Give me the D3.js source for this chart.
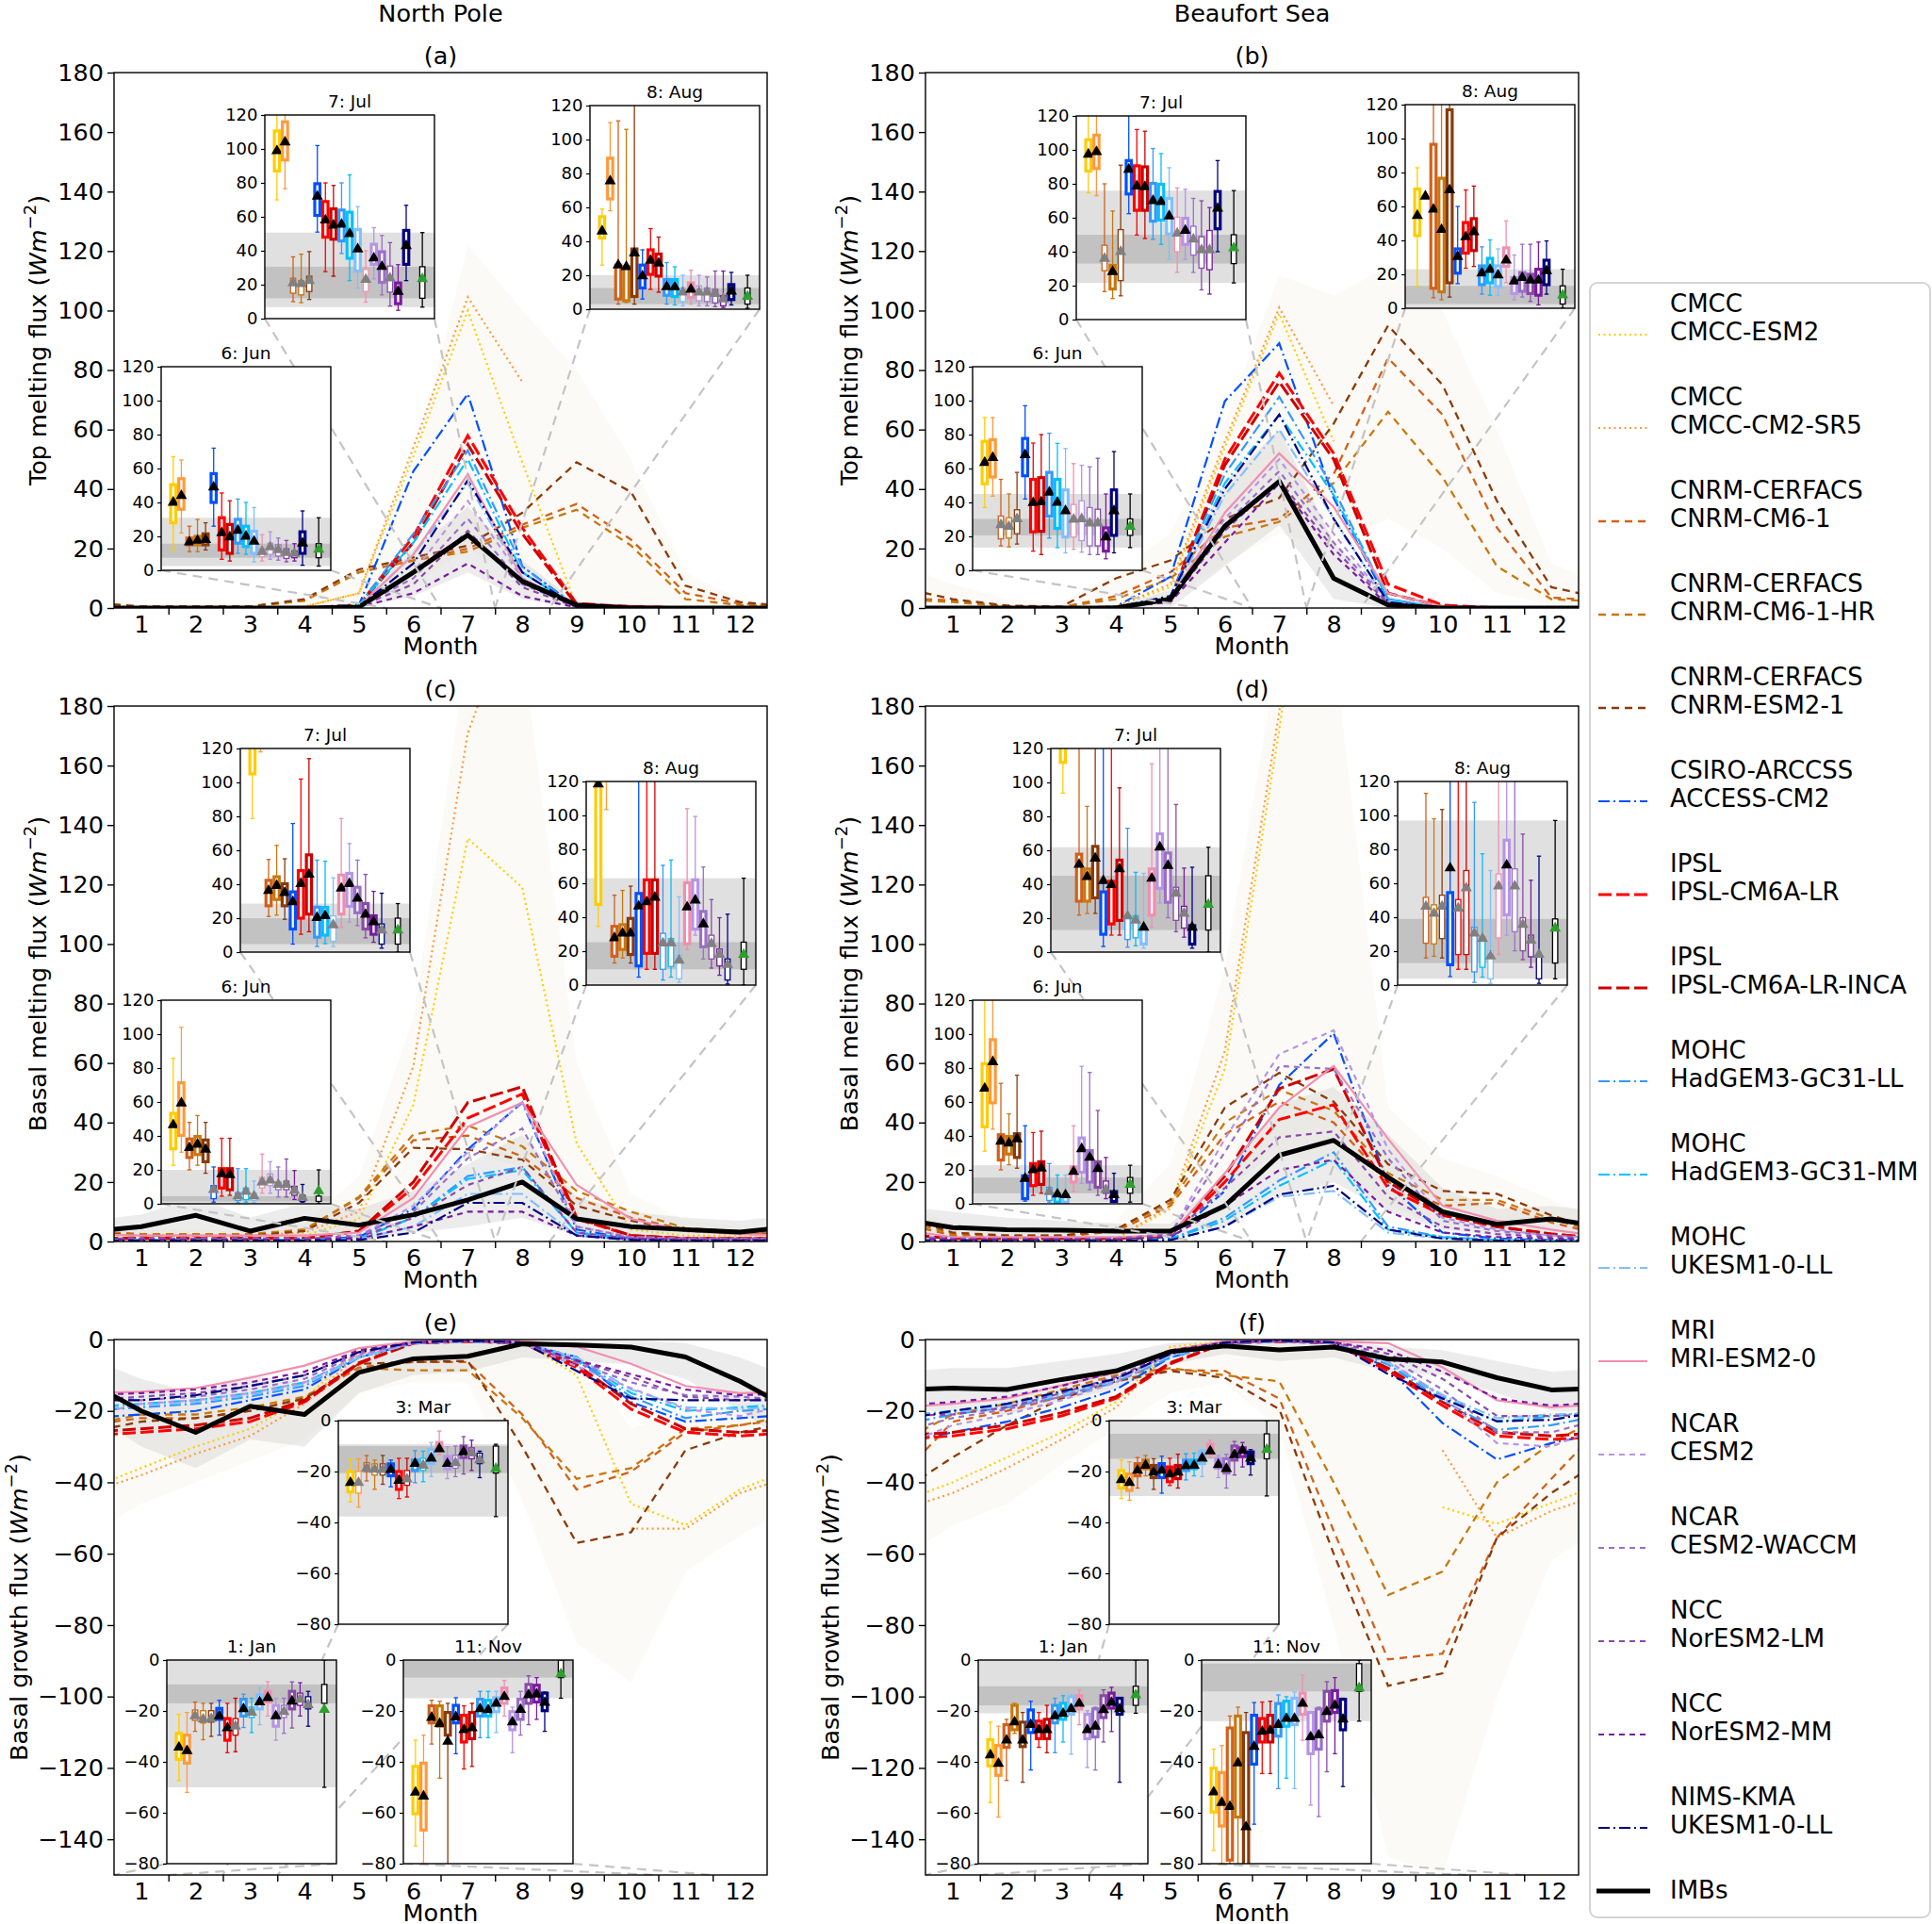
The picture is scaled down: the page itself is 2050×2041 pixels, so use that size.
<!DOCTYPE html>
<html>
<head>
<meta charset="utf-8">
<script src="https://cdn.jsdelivr.net/npm/d3@7"></script>
<style>
  body { margin: 0; background: #fff; }
  svg { font-family: "DejaVu Sans", sans-serif; }
</style>
</head>
<body>
<svg id="chart" width="2050" height="2041"></svg>
<script>
// ---------- categories ----------
const institutes = ['CMCC', 'CMCC', 'CNRM-CERFACS', 'CNRM-CERFACS', 'CNRM-CERFACS', 'CSIRO-ARCCSS', 'IPSL', 'IPSL',
  'MOHC', 'MOHC', 'MOHC', 'MRI', 'NCAR', 'NCAR', 'NCC', 'NCC', 'NIMS-KMA'];
const models = ['CMCC-ESM2', 'CMCC-CM2-SR5', 'CNRM-CM6-1', 'CNRM-CM6-1-HR', 'CNRM-ESM2-1', 'ACCESS-CM2', 'IPSL-CM6A-LR',
  'IPSL-CM6A-LR-INCA', 'HadGEM3-GC31-LL', 'HadGEM3-GC31-MM', 'UKESM1-0-LL', 'MRI-ESM2-0', 'CESM2', 'CESM2-WACCM',
  'NorESM2-LM', 'NorESM2-MM', 'UKESM1-0-LL'];
const monthNames = ['Jan', 'Feb', 'Mar', 'Apr', 'May', 'Jun', 'Jul', 'Aug', 'Sep', 'Oct', 'Nov', 'Dec'];

// ---------- monthly means (rows follow `models`) ----------
const topNP = [
  [0, 0, 0, 0.5, 5, 51, 100, 49, 0.5, 0, 0, 0],
  [0, 0, 0, 0.5, 5, 54, 104.5, 76, null, null, null, null],
  [0.5, 0.5, 0.5, 2.5, 12, 16, 20, 28, 35, 23, 5, 1.5],
  [0.5, 0.5, 0.5, 2.5, 12, 16, 19, 27, 33, 21, 3, 1],
  [0.5, 0.5, 0.5, 3, 13, 17, 21, 32, 49, 39, 7.5, 2],
  [0, 0, 0, 0, 1, 46, 72, 14, 0.5, 0, 0, 0],
  [0, 0, 0, 0, 1, 24, 58, 27, 1.5, 0.5, 0, 0],
  [0, 0, 0, 0, 1, 22, 55, 25, 1, 0.5, 0, 0],
  [0, 0, 0, 0, 1, 25, 53, 14, 0.5, 0, 0, 0],
  [0, 0, 0, 0, 1, 22, 50, 12, 0.5, 0, 0, 0],
  [0, 0, 0, 0, 0.5, 18, 42, 10, 0.5, 0, 0, 0],
  [0, 0, 0, 0, 0.5, 18, 45, 10, 0.5, 0, 0, 0],
  [0, 0, 0, 0, 0.5, 12, 36, 10, 0.5, 0, 0, 0],
  [0, 0, 0, 0, 0.5, 10, 30, 8, 0.5, 0, 0, 0],
  [0, 0, 0, 0, 0.5, 8, 26, 7, 0.3, 0, 0, 0],
  [0, 0, 0, 0, 0.3, 5, 15, 4, 0.2, 0, 0, 0],
  [0, 0, 0, 0, 0.5, 15, 43, 12, 0.5, 0, 0, 0]
];
const imbTopNP = [0, 0, 0, 0, 0.3, 12, 24.5, 9, 1, 0, 0, 0];

const topBS = [
  [0, 0, 0, 0.5, 7, 54, 99, 56, null, null, null, null],
  [0, 0, 0, 0.5, 8, 56, 101, 68, null, null, null, null],
  [2.5, 0.6, 0.3, 4, 12, 27, 30, 45, 84, 65, 27, 3.5],
  [2, 0.5, 0.3, 3, 10, 24, 29, 42, 66, 44, 14, 3],
  [3, 0.8, 0.5, 10, 16, 30, 37, 62, 95, 75, 36, 7],
  [0, 0, 0, 0.5, 10.5, 69.5, 89, 37, 2, 0, 0, 0],
  [0, 0, 0, 0.3, 3, 50, 79, 52, 8, 1, 0, 0],
  [0, 0, 0, 0.3, 3, 48, 76, 50, 5, 0.5, 0, 0],
  [0, 0, 0, 0.3, 4, 45, 71, 40, 3, 0, 0, 0],
  [0, 0, 0, 0.3, 4, 42, 65, 38, 3, 0, 0, 0],
  [0, 0, 0, 0.3, 3, 38, 60, 30, 2, 0, 0, 0],
  [0, 0, 0, 0.3, 3, 32, 52, 34, 5, 0.5, 0, 0],
  [0, 0, 0, 0.3, 3, 30, 50, 25, 2, 0, 0, 0],
  [0, 0, 0, 0.3, 3, 28, 46, 22, 2, 0, 0, 0],
  [0, 0, 0, 0.3, 2, 26, 43, 20, 1.5, 0, 0, 0],
  [0, 0, 0, 0.3, 2, 22, 42, 18, 1, 0, 0, 0],
  [0, 0, 0, 0.3, 4, 40, 65, 30, 2, 0, 0, 0]
];
const imbTopBS = [0, 0, 0, 0, 3, 27.5, 42.6, 10, 1, 0, 0, 0];

const basalNP = [
  [2, 2, 2, 2, 7.6, 46, 135.5, 119, 33, 4, 2, 2],
  [2, 2, 2, 3, 10, 59, 171, 220, null, null, null, null],
  [2, 2, 2, 4, 14.6, 34, 35.6, 28.6, 14.6, 8, 4, 3],
  [2.5, 2.5, 2.5, 4, 15, 36, 39, 32, 17, 10, 4.5, 3.5],
  [2, 2, 2, 3.5, 13, 31.5, 31, 27.5, 12, 7, 3.5, 3],
  [0.5, 0.5, 0.5, 0.5, 1.5, 11, 31, 46.7, 4, 1, 0.5, 0.5],
  [1, 1, 1, 1, 3.5, 18, 41.5, 49.6, 7.6, 2, 1, 1],
  [1, 1, 1, 1, 3.5, 20, 46.7, 52, 8, 2, 1, 1],
  [0.5, 0.5, 0.5, 0.5, 1, 8, 22, 25, 3, 1, 0.5, 0.5],
  [0.5, 0.5, 0.5, 0.5, 1, 8, 21, 24, 3, 1, 0.5, 0.5],
  [0.3, 0.3, 0.3, 0.3, 0.8, 5, 16, 16, 2, 0.5, 0.3, 0.3],
  [2, 2, 2, 2, 3, 14.6, 38.5, 46.7, 19, 7.6, 3.5, 2.5],
  [1, 1, 1, 1, 2, 12, 30, 47, 5, 1.5, 1, 1],
  [1, 1, 1, 1, 2, 10, 28, 38, 5, 1.5, 1, 1],
  [0.8, 0.8, 0.8, 0.8, 1.5, 8, 19, 25, 3, 1, 0.8, 0.8],
  [0.5, 0.5, 0.5, 0.5, 1, 5, 10, 10, 2, 0.8, 0.5, 0.5],
  [0.3, 0.3, 0.3, 0.3, 0.5, 3, 13, 13, 2, 0.5, 0.3, 0.3]
];
const imbBasalNP = [5, 8.8, 3.5, 7.8, 5.5, 9, 14, 20, 7.6, 5, 4, 3.2];

const basalBS = [
  [1, 1, 1, 1, 11, 58, 172, 300, null, null, null, null],
  [1, 1, 1, 1, 12, 64, 178, 320, null, null, null, null],
  [2, 1.5, 1.5, 3.5, 12, 36, 47, 40, 20, 12, 13, 6.4],
  [2.5, 2, 2, 4, 13, 40, 51, 44, 23, 14, 14, 7.6],
  [3, 2, 2, 4, 14, 45, 56.7, 47, 26, 17, 16, 8.8],
  [0.5, 0.5, 0.5, 0.5, 1, 17, 52.6, 70, 19, 3, 1, 0.5],
  [1, 1, 1, 1, 2, 20, 41, 46, 18, 8.8, 5, 2.5],
  [1, 1, 1, 1, 2, 22, 51.4, 58, 20, 9, 5, 2.5],
  [0.3, 0.3, 0.3, 0.3, 0.8, 8, 20.5, 30, 5, 1.5, 0.5, 0.3],
  [0.3, 0.3, 0.3, 0.3, 0.8, 7, 18.7, 27.5, 4, 1.5, 0.5, 0.3],
  [0.2, 0.2, 0.2, 0.2, 0.5, 5, 15, 17, 3, 1, 0.3, 0.2],
  [1.5, 1.5, 1.5, 1.5, 2, 23, 45, 59, 34.5, 12, 7, 4],
  [1, 1, 1, 1, 2.5, 34.5, 63, 71, 31, 8, 4, 2],
  [1, 1, 1, 1, 2.5, 30, 59, 58, 28, 7, 3.5, 2],
  [0.8, 0.8, 0.8, 0.8, 2, 18, 35, 37, 15, 5, 2.5, 1.5],
  [0.5, 0.5, 0.5, 0.5, 1.5, 12, 24, 27.5, 10, 3, 1.5, 1],
  [0.2, 0.2, 0.2, 0.2, 0.5, 5, 15.8, 18.7, 4, 1, 0.3, 0.2]
];
const imbBasalBS = [4.7, 4, 3.8, 3.5, 3.5, 12, 29, 34, 21.6, 10, 5.8, 7.6];

const growthNP = [
  [-36, -30, -25, -16.5, -3, -0.5, -0.3, -0.5, -10, -46, -52, -42],
  [-38, -32, -27, -18, -4, -0.5, -0.3, null, null, -53, -53, -43],
  [-22, -22, -20, -16.5, -7.8, -6.3, -6.3, -21, -42, -37, -26, -24],
  [-21, -21, -19, -16, -8, -8.6, -8.6, -22, -39, -36, -25, -24],
  [-23, -22, -20, -16.5, -6.8, -6.3, -6, -30, -57, -54, -31, -26],
  [-21, -20, -17, -14, -5, -1, -0.5, -1, -4.9, -17.5, -23, -22],
  [-26, -25, -23, -17.5, -6.8, -1, -0.5, -1, -7.8, -19.5, -26, -27],
  [-25, -24, -22, -17, -6.5, -1, -0.5, -1, -7, -18, -25, -26],
  [-19, -18, -16, -13, -5, -1, -0.5, -1, -6, -16, -22, -20],
  [-18, -17, -15, -12, -5, -1, -0.5, -1, -5.5, -15, -20, -19],
  [-18.5, -17.5, -15.5, -12.5, -5, -1, -0.5, -1, -5, -14, -19, -19.5],
  [-14.6, -13.6, -10.7, -7.3, -2.4, -0.5, -0.3, -0.3, -2, -6.8, -13, -15],
  [-18, -17, -15, -12, -4.5, -1, -0.5, -1, -7.5, -13.6, -19.5, -21.4],
  [-17, -16, -14, -11, -4, -1, -0.5, -1, -6.5, -12, -15.6, -16],
  [-16, -15, -13, -10, -3.5, -0.8, -0.3, -0.8, -6, -10.5, -16, -17],
  [-15, -14, -12, -9, -3, -0.8, -0.3, -0.8, -5.8, -9.7, -14, -15.6],
  [-17, -15.6, -13, -10, -3.5, -0.8, -0.3, -0.8, -8.8, -16.5, -17, -17]
];
const imbGrowthNP = [-20, -26, -18.7, -21, -9.2, -5.4, -4.7, -1.2, -1.5, -2.1, -4.9, -11.7];

const growthBS = [
  [-40, -33, -26, -17.5, -2, -0.5, -0.3, null, null, -47, -51.6, -45.8],
  [-43, -36, -28, -19, -3, -0.5, -0.3, null, null, -31, -55.5, -48],
  [-23, -20, -16, -11.5, -8.5, -8.8, -16.5, -53.6, -89.6, -88, -55.5, -39],
  [-21, -18, -14, -10, -8, -10, -11.7, -40, -71.6, -65, -40, -29],
  [-33, -24, -16.5, -11.7, -8.8, -10.7, -19.5, -60, -97, -93.5, -55.5, -43],
  [-26, -23, -19, -14, -5, -1, -0.5, -1, -8, -23.4, -33.6, -29],
  [-27, -25, -21.4, -16.5, -6.8, -1, -0.5, -1, -8.8, -18.5, -27, -28],
  [-26, -24, -20.5, -16, -6.5, -1, -0.5, -1, -8, -17.5, -26, -27],
  [-21, -19, -16, -12, -5, -1, -0.5, -1, -7, -17, -25.3, -24],
  [-20, -18, -15, -11, -4.5, -1, -0.5, -1, -6.5, -16, -23, -21.5],
  [-20.5, -18.5, -15.5, -11.5, -4.5, -1, -0.5, -1, -6.5, -15.5, -22, -21],
  [-18, -16.5, -12.8, -9.3, -3, -0.5, -0.3, -0.5, -1, -7.8, -17, -19],
  [-24, -21, -17, -12, -4, -1, -0.5, -1, -6, -16, -29, -30],
  [-22, -19.5, -16, -11, -4, -1, -0.5, -1, -5, -14, -26, -26],
  [-21, -19, -15, -10.5, -3.5, -0.8, -0.3, -0.8, -4, -11, -21.4, -21.4],
  [-17.5, -16, -13, -9, -3, -0.8, -0.3, -0.8, -3, -9, -16.5, -18.5],
  [-20, -18, -14.5, -11, -4, -0.8, -0.3, -0.8, -9.7, -16.5, -22.9, -22.5]
];
const imbGrowthBS = [-13.6, -14, -11.2, -8.8, -3.4, -1.8, -2.9, -2.1, -5.4, -6.3, -10.7, -14.1];

// ---------- spread bands [lower, upper] ----------
const imbBandTopNP = [[0, 0, 0, 0, 0, 4, 12, 3, 0, 0, 0, 0], [0.5, 0.5, 0.5, 0.5, 1.5, 20, 34, 16, 2, 0.5, 0.5, 0.5]];
const warmBandTopNP = [[0, 0, 0, 0, 0.5, 8, 20, 10, 2, 0, 0, 0], [1, 1, 1, 4, 10, 48, 122, 100, 80, 50, 12, 3]];
const imbBandTopBS = [[0, 0, 0, 0, 0, 14, 28, 3, 0, 0, 0, 0], [0.5, 0.5, 0.5, 0.5, 6, 42, 60, 22, 4, 0.5, 0.5, 0.5]];
const warmBandTopBS = [[0, 0, 0, 1, 3, 15, 25, 20, 30, 20, 5, 1], [8, 3, 2, 12, 25, 62, 112, 105, 115, 100, 60, 15]];
const imbBandBasalNP = [[1, 2, 0.5, 2, 1, 3, 5, 8, 2, 1, 1, 1], [9, 15, 8, 13, 11, 17, 26, 36, 15, 10, 8, 7]];
const warmBandBasalNP = [[0, 0, 0, 1, 3, 15, 30, 25, 5, 2, 1, 1], [4, 4, 4, 6, 22, 75, 200, 200, 60, 16, 7, 5]];
const imbBandBasalBS = [[2, 1, 1, 1, 1, 5, 15, 20, 10, 4, 2, 3], [10, 8, 7, 6, 6, 22, 46, 52, 36, 18, 11, 12]];
const warmBandBasalBS = [[0, 0, 0, 1, 4, 18, 30, 25, 12, 5, 4, 2], [6, 5, 5, 7, 26, 92, 200, 200, 45, 28, 22, 14]];
const imbBandGrowthNP = [[-30, -36, -28, -30, -15, -10, -9, -5, -6, -7, -11, -20], [-11, -15, -10, -12, -4, -1, -0.5, 0, 0, 0, -1, -5]];
const warmBandGrowthNP = [[-46, -40, -34, -28, -15, -12, -12, -45, -85, -96, -65, -55], [-18, -18, -16, -12, -3, 0, 0, 0, -2, -25, -20, -18]];
const imbBandGrowthBS = [[-20, -21, -17, -14, -7, -4, -6, -5, -9, -10, -15, -20], [-8, -8, -6, -4, -1, 0, 0, 0, -2, -3, -6, -9]];
const warmBandGrowthBS = [[-52, -46, -35, -25, -15, -12, -25, -80, -145, -150, -100, -62], [-20, -18, -14, -10, -3, 0, 0, -2, -10, -20, -20, -20]];

// ---------- inset boxes: [low whisker, q1, q3, high whisker, mean, significant]; last row = IMBs ----------
const boxTopNP_Jun = [[12, 28, 50.5, 67, 40, 1], [22, 36, 54, 65, 44, 1], [11, 15, 19, 26, 16.6, 1], [11, 15, 20, 30, 17.6, 1],
  [12, 15, 21.5, 28, 18, 1], [26, 40, 57, 72, 49, 1], [6.5, 12, 31, 45.6, 22, 1], [5.5, 10, 27, 41, 19.6, 1], [10, 16, 30, 42, 23.5, 1],
  [9.4, 14, 26, 40, 20, 1], [5, 10, 23, 37, 17, 1], [5.5, 8, 13, 21, 11, 0], [6.5, 9.4, 16, 22.7, 13.7, 0], [6, 8.4, 15, 19, 12, 0],
  [5, 7, 12.7, 17.6, 10.4, 0], [5.5, 7.4, 11.4, 15.7, 9.8, 0], [3, 10, 22.7, 35, 16, 1], [2.5, 7.4, 15.7, 31, 12.3, 1]];
const boxTopNP_Jul = [[70, 87, 110.6, 125, 98.8, 1], [76.6, 93.5, 116, 128, 104, 1], [10, 15, 23.8, 36.4, 21, 0], [9.4, 14, 22.4, 38, 20.5, 0],
  [11.3, 16, 25, 39.5, 22.4, 0], [51, 60.8, 79.5, 102, 72, 1], [27.7, 48, 69, 80, 58, 1], [25, 46.8, 64.7, 78.5, 55, 1], [38.4, 45.8, 64, 80, 55.5, 1],
  [22.4, 35.6, 62.7, 84.7, 50, 1], [18, 28, 52.6, 66, 41, 1], [9.7, 16, 29, 40, 23, 0], [23.4, 32, 43.8, 53.6, 35.6, 1], [14, 21.4, 39.4, 49, 30.6, 1],
  [7.4, 15.6, 31, 44.8, 23.8, 0], [4.9, 8.8, 21, 31.8, 16, 1], [22.4, 32, 52, 66.8, 42.9, 1], [6.8, 12, 30.6, 50.7, 23.4, 1]];
const boxTopNP_Aug = [[26, 42, 54.5, 59, 46, 1], [58, 65, 89, 110, 75.5, 1], [3, 6, 26, 111, 26, 1], [4, 5, 25, 106, 25, 1],
  [3, 7.5, 35.5, 125, 33, 1], [6, 12.5, 26, 35, 19.5, 1], [11.7, 20.5, 35, 47.5, 28.7, 1], [10, 19.5, 32.5, 42.5, 27, 1], [3, 8.2, 17.5, 27.5, 13.2, 1],
  [2.5, 7.5, 17.5, 25, 13, 1], [2, 4.5, 12.5, 20, 10, 0], [3, 7, 15.5, 23, 11.7, 1], [2, 5, 13.7, 20, 10, 0], [2, 4.5, 12.5, 19, 10, 0],
  [1.5, 3.7, 11.7, 22.5, 9.2, 0], [1, 2, 8, 22.5, 6, 0], [2.5, 5.7, 14.5, 21.7, 10.5, 1], [0.5, 3, 12.5, 20, 7.5, 1]];

const boxTopBS_Jun = [[37, 51, 76, 90, 63.5, 1], [43.7, 55, 77, 90, 66.4, 1], [14.4, 18.5, 32, 53.6, 26.8, 0], [13.8, 19, 31, 45, 25.8, 0],
  [15.5, 21.6, 35.7, 57.7, 30.3, 0], [42, 55.7, 77.7, 97, 68, 1], [11.3, 22.7, 53.6, 75, 39.8, 1], [9.3, 23, 54.6, 80, 40.2, 1], [19, 32, 57.7, 80.8, 46, 1],
  [13.4, 24.7, 53.6, 74.8, 40, 1], [10.3, 19.6, 47.4, 71.8, 35, 1], [12.4, 19.6, 38.8, 62.9, 30, 0], [10.7, 17.5, 41, 61.9, 30.3, 0], [9.3, 14.4, 37, 61, 27.8, 0],
  [9.3, 14.4, 36, 66, 27.8, 0], [6.8, 11.3, 25, 45, 19.6, 1], [10.3, 20.6, 47.4, 70, 35, 1], [13.4, 20.6, 30.3, 45, 25.8, 1]];
const boxTopBS_Jul = [[74.7, 87.5, 106, 125, 97.4, 1], [73, 89, 108.7, 122, 98.8, 1], [16.5, 28.8, 43.8, 80, 36, 0], [12.4, 18, 32, 64, 28.2, 1],
  [14, 23, 53, 91, 40, 0], [62.4, 74, 93.7, 122, 88.5, 1], [49.8, 64.4, 90.6, 112, 78.6, 1], [47.8, 64.4, 90, 111, 78.2, 1], [47.3, 58, 80.3, 100.8, 70, 1],
  [44.3, 58.7, 79.7, 97.8, 69.4, 1], [35.4, 50.4, 71.4, 89.5, 61, 1], [27.8, 40, 60.3, 77.6, 50.8, 0], [35.4, 44.3, 59.7, 76.8, 52.5, 1], [27.8, 38, 55, 71.4, 47.3, 0],
  [17.5, 30.3, 48.8, 70, 41, 0], [15, 29.4, 52.5, 66, 41, 0], [40, 53.5, 75.5, 93.7, 65.5, 1], [21.6, 33, 50, 76, 42.2, 1]];
const boxTopBS_Aug = [[13, 42.8, 70.3, 82.8, 54.6, 1], [66, 66, 66, 66, 66, 1], [6.2, 11.8, 96.6, 125, 58.3, 1], [5, 9.7, 76.6, 125, 46.3, 1],
  [6.6, 15, 117, 125, 69.7, 1], [14.5, 20.7, 35, 60, 30.4, 1], [23.6, 32.5, 50.5, 69.7, 42, 1], [24.6, 34, 52.8, 72, 45, 1], [8.3, 13.9, 25, 36.2, 20.7, 1],
  [7.7, 15, 29.4, 40.3, 22.8, 1], [7.7, 12.8, 25, 35, 19.5, 1], [15, 24.6, 35.6, 51.5, 28.3, 1], [5, 8.7, 18, 31.4, 16, 1], [6.6, 10, 21, 37.7, 18, 1],
  [4, 8.7, 20, 37.7, 16.5, 1], [2, 7.7, 23, 39, 16.5, 1], [8.3, 13.9, 28.3, 39.7, 22, 1], [0, 2.5, 13.2, 23, 7.7, 1]];

const boxBasalNP_Jun = [[22.7, 32.4, 53.3, 85.7, 46.5, 1], [30.4, 40.3, 71.3, 104, 59.3, 1], [20, 27.3, 38.2, 48, 33, 1], [22.7, 29, 39.7, 52, 35, 1],
  [18, 24.8, 37.6, 48, 32, 1], [1, 3, 10.7, 21.7, 8.3, 0], [4.5, 9.3, 20.7, 38.6, 17.6, 1], [5, 8.3, 20.7, 38.6, 17, 1], [0.6, 2, 6.6, 20.7, 4.5, 0],
  [1, 2.5, 9.3, 20.7, 7.2, 0], [0.6, 2, 6.2, 13.4, 4.5, 0], [6.2, 9.3, 15.5, 29.3, 12.8, 0], [6.2, 10.7, 17.6, 24.8, 13.8, 0], [4, 8.3, 12.8, 21.7, 11.4, 0],
  [4, 8.3, 13.4, 26.4, 11.4, 0], [2.5, 5, 10.3, 19.6, 7.8, 0], [1, 1.4, 5, 11.4, 3.7, 0], [0, 1.4, 4.5, 20, 7.6, 1]];
const boxBasalNP_Jul = [[78.7, 105, 130, 140, 125, 1], [118, 125, 135, 140, 130, 1], [21, 27.3, 42.3, 54.6, 36.2, 1], [21.8, 31, 44.4, 62.9, 39.2, 1],
  [19.3, 27.3, 40.3, 55, 35, 1], [4.7, 13.6, 35.5, 75.8, 29.6, 1], [10.5, 20, 48, 102, 40.3, 1], [12, 22.4, 57.3, 114, 45.8, 1], [3.3, 8.8, 26.5, 54.2, 20.3, 1],
  [5, 10, 26.3, 53.6, 21.4, 1], [3.3, 6.4, 21.4, 43.8, 16, 0], [14.6, 22.4, 45.4, 78.7, 37.6, 1], [17.7, 27, 46.4, 64, 40.3, 1], [15.6, 23.2, 38.2, 54.2, 31.6, 1],
  [8.4, 13.6, 28.6, 45.8, 22.2, 1], [5.8, 10.5, 21.4, 35.8, 17.7, 1], [2.3, 4.7, 16.6, 34.7, 12.9, 0], [0, 4.7, 20, 28.6, 12.9, 1]];
const boxBasalNP_Aug = [[34.6, 47.5, 130, 140, 118.4, 1], [103.5, 125, 135, 140, 130, 1], [13, 17, 34.6, 53, 27.8, 1], [16, 21, 35.6, 55.8, 30.5, 1],
  [13, 18, 39.3, 58.3, 30.5, 1], [4.7, 11.3, 54, 125, 46.5, 1], [9.3, 18.7, 62, 125, 49, 1], [9.3, 18.7, 62, 125, 51.7, 1], [3, 9.3, 30.5, 70.6, 24.7, 0],
  [4.7, 11, 27.4, 73.7, 24.7, 0], [1.6, 3.7, 17.5, 52, 14.6, 0], [21, 24.3, 60.3, 104, 45.9, 1], [29.4, 33, 62, 99.4, 50, 1], [15.4, 22.6, 43.4, 69.6, 36, 1],
  [10, 15.4, 29.4, 50.4, 24.3, 0], [5.8, 11.3, 21.2, 39.7, 18, 0], [0.6, 3, 15.4, 41.8, 12, 0], [0, 9.3, 25.3, 63, 18, 1]];

const boxBasalBS_Jun = [[31, 45.4, 82.6, 125, 68, 1], [44, 59.5, 96.7, 125, 83.6, 1], [20, 25.8, 40.7, 71, 36.8, 1], [23, 29.3, 39.7, 53, 35.7, 1],
  [21, 27.3, 41.3, 75.8, 38.2, 1], [1.6, 3, 16.5, 46, 14.9, 1], [5, 10.7, 23.7, 42, 20, 1], [6.2, 11.4, 24.8, 42.8, 21, 1], [1, 2, 9.7, 23.7, 7, 0],
  [0.6, 1, 5.6, 17, 5.6, 1], [0.6, 1, 5.2, 17, 5.2, 1], [7.2, 12.8, 21.7, 46, 19, 1], [12, 18.6, 38.8, 81, 32.4, 1], [8.3, 12.8, 31.4, 77.4, 27.3, 1],
  [5, 9.7, 24.8, 55, 20.7, 1], [3, 6.2, 13.4, 27.3, 8.3, 0], [1, 1.4, 7.2, 18, 5.2, 1], [1, 6.2, 15.5, 22.7, 11.4, 1]];
const boxBasalBS_Jul = [[93.7, 111.8, 130, 140, 125, 1], [125, 130, 140, 150, 135, 1], [21.8, 30, 57.7, 125, 51.6, 1], [22.8, 30, 49, 85.9, 44.4, 1],
  [22.8, 32, 62.3, 125, 55.3, 1], [3.3, 10.5, 35.5, 125, 42, 1], [10, 16.6, 41.7, 125, 39.7, 1], [10, 18.7, 54.2, 96.8, 49, 1], [2.9, 7.4, 21.8, 73, 21.2, 0],
  [3.7, 8.4, 21.4, 47, 18.7, 0], [2.3, 4.7, 14.6, 46.4, 14.6, 1], [14.6, 21.8, 49, 111, 43.4, 1], [29, 37.6, 69.7, 125, 61.8, 1], [20.3, 29.4, 58.4, 125, 51, 1],
  [12, 18.7, 38.2, 87, 34.5, 0], [8.8, 14.2, 27, 49.5, 22.8, 0], [2.3, 4.7, 15.6, 50, 14.6, 1], [0, 13, 45, 61.8, 28, 1]];
const boxBasalBS_Aug = [[125, 130, 140, 150, 135, 1], [125, 130, 140, 150, 135, 1], [16, 24.7, 51.7, 113, 46.3, 0], [17, 24.3, 47.3, 98, 42.2, 0],
  [16, 27.4, 53, 103.5, 46.3, 0], [5, 12, 54.5, 125, 69, 1], [9.3, 18, 50.4, 125, 45.3, 0], [9.3, 18, 67.5, 125, 57.2, 0], [1.6, 7.8, 34, 107.7, 30.5, 0],
  [4.7, 10.5, 28.4, 77.4, 27.4, 0], [1, 3.7, 20.2, 67.5, 17, 0], [18, 27.8, 65.5, 125, 58.3, 0], [29.4, 41.4, 85.4, 125, 70.6, 1], [20.2, 31.5, 68.5, 125, 58.3, 0],
  [15, 20.2, 39.7, 89, 35.6, 0], [10.5, 16.7, 29.4, 61.8, 26.3, 0], [1, 3.7, 16.7, 76, 18, 0], [3.7, 13, 39, 97, 33.5, 1]];

const boxGrowthNP_Mar = [[-32, -28, -20, -15, -24.4, 1], [-34, -28.5, -20, -15, -24.4, 0], [-23.7, -20, -16.5, -13.7, -18.7, 0], [-27, -21.4, -17, -15.5, -19.2, 0],
  [-25, -21.4, -17, -13.7, -19.3, 0], [-26, -21.7, -17, -15.5, -19.3, 1], [-30.6, -27, -20, -14.8, -23.5, 1], [-30, -25.4, -19.6, -14.8, -23, 0],
  [-24.4, -19.6, -15.5, -11.8, -16.9, 1], [-24, -19.6, -14.8, -12, -17.6, 0], [-22, -16.9, -11.4, -8.6, -14.8, 1], [-13.4, -12, -8.6, -4.1, -11.1, 1],
  [-22.8, -18.9, -14.1, -10.3, -16.9, 1], [-22, -18.7, -13.7, -10, -16.6, 0], [-21, -14.5, -10, -6.3, -12.3, 1], [-19.6, -15, -10.7, -7.7, -12.8, 0],
  [-22.4, -16.9, -12.8, -12, -15.5, 0], [-37.7, -20.6, -10, -9.3, -18.9, 1]];
const boxGrowthNP_Jan = [[-47.3, -39, -28.8, -21.3, -34.3, 1], [-52, -40.5, -29.5, -20.6, -35.7, 1], [-28, -23.7, -19.6, -16.5, -22, 0], [-31.3, -24.7, -19.9, -17, -23.3, 0],
  [-30, -24.4, -19.9, -17, -23, 0], [-29.5, -23.3, -19, -15.8, -22, 1], [-36.4, -31.5, -23, -17, -26.7, 1], [-36, -29.5, -23, -15, -26, 0],
  [-26.5, -22, -15.4, -13.4, -19.2, 1], [-28.5, -22.6, -18.5, -15, -20.6, 0], [-25.4, -19.2, -13.7, -11, -16.5, 1], [-22, -16.5, -12.3, -8.5, -14.8, 1],
  [-31.5, -26, -17.8, -15, -22, 1], [-28.8, -22.6, -17.8, -15, -20.3, 0], [-26.7, -19.2, -12.3, -8.6, -16.2, 1], [-22, -17.8, -13, -8.9, -15.5, 0],
  [-26, -19.2, -14.4, -12.3, -17.6, 0], [-50, -17, -9.6, 0, -19.5, 1]];
const boxGrowthNP_Nov = [[-73, -60.4, -41.8, -31.5, -52, 1], [-80, -66.8, -40.5, -29.5, -53.5, 1], [-33, -24.7, -18, -15.8, -22.6, 1], [-46.4, -26, -18, -16.2, -25, 1],
  [-85, -29.5, -20.6, -17, -32, 1], [-36.8, -24.7, -17.8, -14.8, -22.4, 1], [-42.8, -32.2, -21.7, -18, -27.4, 1], [-41.8, -30.9, -20.6, -17, -26.7, 1],
  [-30.5, -22, -15.4, -12.3, -19.2, 1], [-30.5, -22, -15.8, -12.3, -19.6, 1], [-28.5, -20.3, -14.8, -12.3, -17.1, 1], [-22, -17, -11, -8, -14.4, 1],
  [-36.4, -27.4, -20.3, -18.5, -24.4, 1], [-29.5, -23.3, -15.4, -12.3, -19.5, 1], [-25.4, -17, -9.6, -6.2, -13.7, 1], [-23.3, -16.5, -9.9, -6.9, -13.4, 1],
  [-28, -19.9, -13, -12.6, -16.7, 1], [-15, -6.9, 0, 0, -5.5, 1]];

const boxGrowthBS_Mar = [[-30.6, -26.5, -19.6, -15.5, -23.3, 1], [-31.3, -27.4, -21, -16.2, -24.4, 1], [-26.5, -21.7, -16.9, -14.5, -19.6, 1], [-21.7, -18.9, -15.5, -13.7, -17.6, 1],
  [-27, -22.4, -17.6, -15, -20.3, 1], [-28.5, -22.4, -16.9, -14, -19.6, 1], [-25.5, -24, -18.2, -14.8, -21, 1], [-26.5, -22.8, -17.6, -13.2, -20.3, 1],
  [-23.3, -19.6, -15.5, -13, -17.8, 1], [-21.7, -18.9, -15.5, -12.8, -17.6, 1], [-22, -16.9, -12, -11.4, -14.8, 1], [-14.5, -13.2, -9.3, -7.7, -12, 1],
  [-22.4, -18.7, -15, -13.7, -17.3, 1], [-26.5, -20.6, -15, -13.2, -18.9, 1], [-21.4, -15.5, -10, -8.2, -13.4, 1], [-18.2, -14.1, -10.7, -8.6, -11.8, 1],
  [-21.4, -16.9, -12.3, -11.4, -14.8, 1], [-29.6, -15, -5.2, 0, -11.4, 1]];
const boxGrowthBS_Jan = [[-56, -41.6, -31.3, -24.4, -37.3, 1], [-61.7, -45.3, -33.6, -26, -40.7, 1], [-47.3, -34.3, -25.4, -23.3, -31.5, 1], [-28.8, -27.4, -17.8, -17, -24.4, 1],
  [-48, -34, -24.4, -20.6, -31.5, 1], [-43.2, -28.5, -19.6, -16.2, -25.4, 1], [-34.3, -30.9, -24, -20.6, -27.4, 1], [-36.4, -30.9, -23.3, -17.8, -27.4, 1],
  [-36.4, -24.7, -17.8, -15, -22, 1], [-32.2, -23.3, -17, -14, -21, 1], [-37, -21.3, -14.4, -13.7, -19.2, 1], [-25.4, -19.2, -14, -11.7, -17.1, 1],
  [-42.2, -30.9, -21.3, -19.9, -27.4, 1], [-43.2, -30.2, -19.2, -18.5, -26, 1], [-32.2, -22.6, -14, -11.7, -19.6, 1], [-28.1, -18.9, -13, -10.7, -16.7, 1],
  [-48, -21.3, -15, -15, -19.2, 1], [-20.9, -17.8, -10.3, 0, -13.7, 1]];
const boxGrowthBS_Nov = [[-74.8, -59.7, -42.5, -35, -51.9, 1], [-80, -65.2, -44.2, -33.6, -56, 1], [-85, -78.6, -26.7, -22, -57.6, 1], [-85, -61.7, -22, -18.5, -40.5, 1],
  [-85, -85, -28.5, -20.6, -65.6, 1], [-64.5, -40.9, -21.7, -16.7, -34, 1], [-44.6, -32.2, -23, -16.5, -28.1, 1], [-44.6, -32.2, -21.7, -16.2, -27.7, 1],
  [-50.5, -29.9, -17.1, -13.7, -25.4, 1], [-46.4, -26, -16.2, -14.4, -23, 1], [-50.5, -25.4, -15, -12.6, -23, 1], [-31.5, -21.3, -13, -5.9, -17.1, 1],
  [-57, -36.8, -20.6, -20.6, -30.2, 1], [-61.5, -35, -19.2, -18.5, -29.5, 1], [-43.9, -24, -12.3, -8.5, -20.3, 1], [-36.8, -20.6, -12, -6.9, -17.8, 1],
  [-49.7, -27.4, -15.4, -15, -23.3, 1], [-24, -12.3, -1.4, 0, -11, 1]];

// ---------- styles ----------
const colors = ['#ffcc00', '#ff9a3c', '#d2601a', '#c8780f', '#8b3a0a', '#0050ff', '#ff0000', '#cc0000',
  '#3399ff', '#00bfff', '#80bfff', '#f08fb0', '#b794e6', '#9a6fc8', '#8a4aa8', '#7a1aa0', '#000080'];
const dashes = ['2,3.5', '2,3.5', '8,6', '8,6', '8,6', '12,4,2,4', '14,5', '14,5',
  '12,4,2,4', '12,4,2,4', '12,4,2,4', null, '6,5', '6,5', '6,5', '6,5', '12,4,2,4'];
const widths = [2.2, 2.2, 2.3, 2.3, 2.3, 2.2, 3, 3, 2.2, 2.2, 2.2, 2.2, 2.2, 2.2, 2.2, 2.2, 2.2];

const size = {w: 693, h: 568};
const colX = [121, 982], rowY = [77, 749, 1421];
const inset = {w: 180, h: 216};
const fs = 25.5;
const svg = d3.select('#chart');
const defs = svg.append('defs');

const panels = [
  {tag: '(a)', col: 0, row: 0, lines: topNP, imb: imbTopNP, imbBand: imbBandTopNP, warmBand: warmBandTopNP, label: 'Top melting flux',
    insets: [{m: 6, dx: 50, dy: 312, boxes: boxTopNP_Jun}, {m: 7, dx: 160, dy: 45, boxes: boxTopNP_Jul}, {m: 8, dx: 505, dy: 35, boxes: boxTopNP_Aug}]},
  {tag: '(b)', col: 1, row: 0, lines: topBS, imb: imbTopBS, imbBand: imbBandTopBS, warmBand: warmBandTopBS, label: 'Top melting flux',
    insets: [{m: 6, dx: 50, dy: 312, boxes: boxTopBS_Jun}, {m: 7, dx: 160, dy: 46, boxes: boxTopBS_Jul}, {m: 8, dx: 509, dy: 34, boxes: boxTopBS_Aug}]},
  {tag: '(c)', col: 0, row: 1, lines: basalNP, imb: imbBasalNP, imbBand: imbBandBasalNP, warmBand: warmBandBasalNP, label: 'Basal melting flux',
    insets: [{m: 6, dx: 50, dy: 312, boxes: boxBasalNP_Jun}, {m: 7, dx: 134, dy: 45, boxes: boxBasalNP_Jul}, {m: 8, dx: 501, dy: 80, boxes: boxBasalNP_Aug}]},
  {tag: '(d)', col: 1, row: 1, lines: basalBS, imb: imbBasalBS, imbBand: imbBandBasalBS, warmBand: warmBandBasalBS, label: 'Basal melting flux',
    insets: [{m: 6, dx: 50, dy: 312, boxes: boxBasalBS_Jun}, {m: 7, dx: 133, dy: 45, boxes: boxBasalBS_Jul}, {m: 8, dx: 501, dy: 80, boxes: boxBasalBS_Aug}]},
  {tag: '(e)', col: 0, row: 2, lines: growthNP, imb: imbGrowthNP, imbBand: imbBandGrowthNP, warmBand: warmBandGrowthNP, label: 'Basal growth flux',
    insets: [{m: 3, dx: 238, dy: 86, boxes: boxGrowthNP_Mar}, {m: 1, dx: 56, dy: 340, boxes: boxGrowthNP_Jan}, {m: 11, dx: 307, dy: 340, boxes: boxGrowthNP_Nov}]},
  {tag: '(f)', col: 1, row: 2, lines: growthBS, imb: imbGrowthBS, imbBand: imbBandGrowthBS, warmBand: warmBandGrowthBS, label: 'Basal growth flux',
    insets: [{m: 3, dx: 195, dy: 86, boxes: boxGrowthBS_Mar}, {m: 1, dx: 56, dy: 340, boxes: boxGrowthBS_Jan}, {m: 11, dx: 293, dy: 340, boxes: boxGrowthBS_Nov}]}
];

// column titles
['North Pole', 'Beaufort Sea'].forEach((t, i) => {
  svg.append('text').attr('x', colX[i] + size.w / 2).attr('y', 23)
    .attr('text-anchor', 'middle').attr('font-size', fs).text(t);
});

panels.forEach(drawPanel);
drawLegend();

// repeat Dec before Jan and Jan after Dec so lines run to both edges
function cyclic(vals) {
  const pts = vals.map((v, i) => [i + 1, v]);
  return [[0, vals[11]], ...pts, [13, vals[0]]];
}

function drawPanel(p, pi) {
  const x0 = colX[p.col], y0 = rowY[p.row];
  const growth = p.row === 2;
  const x = d3.scaleLinear().domain([0.5, 12.5]).range([x0, x0 + size.w]);
  const y = d3.scaleLinear().domain(growth ? [-150, 0] : [0, 180]).range([y0 + size.h, y0]);
  const g = svg.append('g');

  const clipId = 'main' + pi;
  defs.append('clipPath').attr('id', clipId).append('rect')
    .attr('x', x0).attr('y', y0).attr('width', size.w).attr('height', size.h);
  const plot = g.append('g').attr('clip-path', `url(#${clipId})`);

  // shaded ranges
  const area = d3.area().x(d => x(d[0])).y0(d => y(d[1])).y1(d => y(d[2]));
  const bandPts = b => cyclic(b[0]).map((d, i) => [d[0], d[1], cyclic(b[1])[i][1]]);
  plot.append('path').attr('d', area(bandPts(p.warmBand))).attr('fill', '#efe4d2').attr('opacity', 0.2);
  plot.append('path').attr('d', area(bandPts(p.imbBand))).attr('fill', '#cfcfcf').attr('opacity', 0.4);

  const line = d3.line().defined(d => d[1] != null).x(d => x(d[0])).y(d => y(d[1]));
  p.lines.forEach((vals, i) => {
    plot.append('path').attr('d', line(cyclic(vals)))
      .attr('fill', 'none').attr('stroke', colors[i]).attr('stroke-width', widths[i])
      .attr('stroke-dasharray', dashes[i]);
  });
  plot.append('path').attr('d', line(cyclic(p.imb)))
    .attr('fill', 'none').attr('stroke', '#000').attr('stroke-width', 5).attr('stroke-linejoin', 'round');

  // inset connector lines
  const yBottom = y0 + size.h;
  p.insets.forEach(ins => {
    const ix = x0 + ins.dx, iy = y0 + ins.dy;
    [[ix, x(ins.m - 0.5)], [ix + inset.w, x(ins.m + 0.5)]].forEach(([a, b]) => {
      g.append('line').attr('x1', a).attr('y1', iy + inset.h).attr('x2', b).attr('y2', yBottom)
        .attr('stroke', '#c4c4c4').attr('stroke-width', 2.2).attr('stroke-dasharray', '10,7');
    });
  });

  // frame and axes
  g.append('rect').attr('x', x0).attr('y', y0).attr('width', size.w).attr('height', size.h)
    .attr('fill', 'none').attr('stroke', '#000').attr('stroke-width', 1.4);

  const yAxis = g.append('g').attr('transform', `translate(${x0},0)`)
    .call(d3.axisLeft(y).tickValues(growth ? d3.range(-140, 1, 20) : d3.range(0, 181, 20))
      .tickFormat(d3.format('d')).tickSize(7).tickPadding(4));
  const xMinor = g.append('g').attr('transform', `translate(0,${yBottom})`)
    .call(d3.axisBottom(x).tickValues(d3.range(1.5, 12, 1)).tickFormat('').tickSize(7));
  const xLab = g.append('g').attr('transform', `translate(0,${yBottom})`)
    .call(d3.axisBottom(x).tickValues(d3.range(1, 13)).tickSize(0).tickPadding(8));
  [yAxis, xMinor, xLab].forEach(a => {
    a.select('.domain').remove();
    a.selectAll('line').attr('stroke-width', 1.4);
    a.selectAll('text').attr('font-size', fs).attr('font-family', 'DejaVu Sans').attr('fill', '#000');
  });

  g.append('text').attr('x', x0 + size.w / 2).attr('y', yBottom + 49)
    .attr('text-anchor', 'middle').attr('font-size', fs).text('Month');
  g.append('text').attr('x', x0 + size.w / 2).attr('y', y0 - 9)
    .attr('text-anchor', 'middle').attr('font-size', fs).text(p.tag);

  // y label sits left of the widest tick labels
  const labX = x0 - (growth ? 92 : 72);
  const lab = g.append('text')
    .attr('transform', `translate(${labX},${y0 + size.h / 2}) rotate(-90)`)
    .attr('text-anchor', 'middle').attr('font-size', fs);
  lab.append('tspan').text(p.label + ' (');
  lab.append('tspan').attr('font-style', 'italic').text('Wm');
  lab.append('tspan').attr('font-size', 18).attr('dy', -11).text('−2');
  lab.append('tspan').attr('dy', 11).text(')');

  p.insets.forEach((ins, k) => drawInset(g, ins, x0 + ins.dx, y0 + ins.dy, growth, pi + '_' + k));
}

function drawInset(g, ins, ix, iy, growth, id) {
  const sx = d3.scaleLinear().domain([-0.5, 20.5]).range([ix, ix + inset.w]);
  const sy = d3.scaleLinear().domain(growth ? [-80, 0] : [0, 120]).range([iy + inset.h, iy]);
  const ig = g.append('g');
  ig.append('rect').attr('x', ix).attr('y', iy).attr('width', inset.w).attr('height', inset.h).attr('fill', '#fff');

  defs.append('clipPath').attr('id', 'ins' + id).append('rect')
    .attr('x', ix).attr('y', iy).attr('width', inset.w).attr('height', inset.h);
  const body = ig.append('g').attr('clip-path', `url(#ins${id})`);

  // IMB whisker range and interquartile range as background bands
  const imb = ins.boxes[ins.boxes.length - 1];
  body.append('rect').attr('x', ix).attr('width', inset.w)
    .attr('y', sy(imb[3])).attr('height', sy(imb[0]) - sy(imb[3])).attr('fill', '#e0e0e0');
  body.append('rect').attr('x', ix).attr('width', inset.w)
    .attr('y', sy(imb[2])).attr('height', sy(imb[1]) - sy(imb[2])).attr('fill', '#c2c2c2');

  const bw = 5.5, cw = 4.5;
  ins.boxes.forEach((b, i) => {
    const isImb = i === ins.boxes.length - 1;
    const slot = isImb ? 19 : i + 1;
    const cx = sx(slot);
    const col = isImb ? '#000' : colors[i];
    const thick = !isImb && b[5] === 1;
    body.append('line').attr('x1', cx).attr('x2', cx).attr('y1', sy(b[0])).attr('y2', sy(b[3]))
      .attr('stroke', col).attr('stroke-width', 1.3);
    [b[0], b[3]].forEach(v => body.append('line').attr('x1', cx - cw / 2).attr('x2', cx + cw / 2)
      .attr('y1', sy(v)).attr('y2', sy(v)).attr('stroke', col).attr('stroke-width', 1.3));
    if (b[2] > b[1]) {
      body.append('rect').attr('x', cx - bw / 2).attr('width', bw)
        .attr('y', sy(b[2])).attr('height', sy(b[1]) - sy(b[2]))
        .attr('fill', '#fff').attr('stroke', col).attr('stroke-width', thick ? 3.2 : 1.3);
    }
    const mColor = isImb ? '#2ca02c' : (b[5] === 1 ? '#000' : '#808080');
    body.append('path').attr('d', d3.symbol(d3.symbolTriangle, 62)())
      .attr('transform', `translate(${cx},${sy(b[4])})`).attr('fill', mColor);
  });

  ig.append('rect').attr('x', ix).attr('y', iy).attr('width', inset.w).attr('height', inset.h)
    .attr('fill', 'none').attr('stroke', '#000').attr('stroke-width', 1.4);
  const ax = ig.append('g').attr('transform', `translate(${ix},0)`)
    .call(d3.axisLeft(sy).tickValues(growth ? d3.range(-80, 1, 20) : d3.range(0, 121, 20))
      .tickFormat(d3.format('d')).tickSize(4).tickPadding(3.5));
  ax.select('.domain').remove();
  ax.selectAll('line').attr('stroke-width', 1.2);
  ax.selectAll('text').attr('font-size', 18).attr('font-family', 'DejaVu Sans').attr('fill', '#000');
  ig.append('text').attr('x', ix + inset.w / 2).attr('y', iy - 8).attr('text-anchor', 'middle')
    .attr('font-size', 18.5).text(ins.m + ': ' + monthNames[ins.m - 1]);
}

function drawLegend() {
  const lg = svg.append('g');
  lg.append('rect').attr('x', 1687).attr('y', 300).attr('width', 361).attr('height', 1734)
    .attr('rx', 8).attr('fill', '#fff').attr('stroke', '#d4d4d4').attr('stroke-width', 2);
  const step = 99, top = 331;
  models.forEach((m, i) => {
    const yb = top + i * step;
    lg.append('line').attr('x1', 1696).attr('x2', 1748).attr('y1', yb + 24).attr('y2', yb + 24)
      .attr('stroke', colors[i]).attr('stroke-width', widths[i]).attr('stroke-dasharray', dashes[i]);
    lg.append('text').attr('x', 1772).attr('y', yb).attr('font-size', 26).text(institutes[i]);
    lg.append('text').attr('x', 1772).attr('y', yb + 30).attr('font-size', 26).text(m);
  });
  const yi = top + models.length * step;
  lg.append('line').attr('x1', 1694).attr('x2', 1751).attr('y1', yi - 8).attr('y2', yi - 8)
    .attr('stroke', '#000').attr('stroke-width', 5);
  lg.append('text').attr('x', 1772).attr('y', yi).attr('font-size', 26).text('IMBs');
}
</script>
</body>
</html>
